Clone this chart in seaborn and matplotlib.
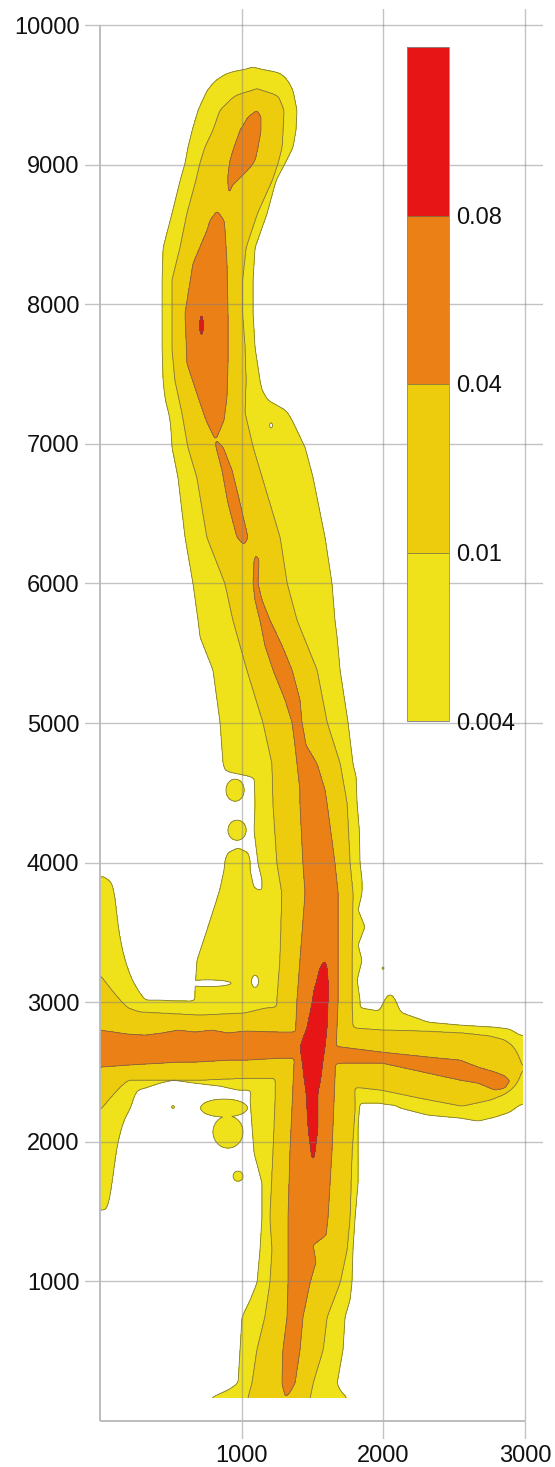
import numpy as np
import matplotlib
matplotlib.use("Agg")
import matplotlib.pyplot as plt
import seaborn as sns

# ---------------------------------------------------------------------------
# Concentration classes and their fill colours
levels = [0.004, 0.01, 0.04, 0.08]
level_labels = ["0.004", "0.01", "0.04", "0.08"]
level_colors = ["#EFE21B", "#EDCB0D", "#EB8116", "#E71515"]

# Axis ticks
x_ticks = [1000, 2000, 3000]
y_ticks = [1000, 2000, 3000, 4000, 5000, 6000, 7000, 8000, 9000, 10000]

# ---------------------------------------------------------------------------
# North-south plume: isoline positions (x) for each y row
# 0.004 isoline
ns004_y = [9700, 9660, 9600, 9530, 9390, 9245, 9125, 9010, 8885, 8650,
           8405, 8170, 7935, 7690, 7455, 7385, 7310, 7240, 7170, 7095,
           6975, 6760, 6330, 6000, 5735, 5615, 5380, 5005, 4710, 4645,
           4620, 4425, 4230, 3995, 3875, 3780, 3660, 3540, 3410, 3300,
           3160, 3015, 2300, 2105, 1920, 1705, 1460, 1225, 990, 865,
           745, 510, 270, 220, 165, 100]
ns004_left = [1080, 903, 812, 755, 692, 650, 621, 600, 565, 508,
              445, 438, 438, 438, 445, 452, 462, 480, 494, 501,
              508, 550, 600, 656, 692, 706, 797, 847, 868, 889,
              1087, 1094, 1087, 1115, 1143, 1143, 1143, 1143, 1143, 1143,
              1143, 1143, 1059, 1073, 1087, 1143, 1143, 1129, 1108, 1059,
              1002, 988, 974, 903, 776, 776]
ns004_right = [1080, 1270, 1327, 1362, 1390, 1383, 1362, 1306, 1242, 1179,
               1094, 1080, 1080, 1094, 1129, 1143, 1186, 1313, 1355, 1390,
               1447, 1503, 1588, 1637, 1658, 1673, 1694, 1750, 1785, 1800,
               1807, 1814, 1830, 1835, 1849, 1849, 1821, 1870, 1821, 1849,
               1814, 1835, 1835, 1821, 1821, 1821, 1800, 1785, 1778, 1764,
               1729, 1715, 1673, 1694, 1743, 1743]

# western lobe of the 0.004 isoline near y = 3000-4100
lobe_y = [4105, 4075, 4015, 3945, 3815, 3765, 3540, 3300, 3085, 2945]
lobe_left = [974, 903, 882, 875, 847, 833, 762, 684, 670, 670]
lobe_right = [974, 1044, 1059, 1059, 1087, 1200, 1200, 1200, 1200, 1200]

# 0.01 isoline
ns01_y = [9545, 9495, 9390, 9245, 9125, 9010, 8885, 8650, 8405, 8170,
          7935, 7690, 7455, 7220, 6975, 6760, 6330, 6000, 5735, 5380,
          5005, 4710, 4425, 3995, 3780, 3300, 3015, 2250, 1920, 1460,
          1225, 990, 745, 510, 270, 165, 100]
ns01_left = [1108, 953, 847, 797, 741, 706, 677, 614, 565, 508,
             508, 508, 529, 579, 621, 684, 755, 882, 939, 1037,
             1150, 1214, 1221, 1249, 1284, 1270, 1249, 1235, 1221, 1200,
             1214, 1200, 1164, 1108, 1073, 1044, 1044]
ns01_right = [1108, 1256, 1298, 1291, 1284, 1256, 1214, 1110, 1030, 1005,
              1005, 1023, 1030, 1023, 1080, 1143, 1270, 1320, 1390, 1531,
              1602, 1694, 1743, 1764, 1785, 1778, 1778, 1800, 1778, 1764,
              1743, 1694, 1602, 1574, 1503, 1482, 1482]

# 0.04 isoline: four separate cores along the plume
core_a_y = [9390, 9340, 9245, 9125, 9030, 8980, 8925, 8850, 8765]
core_a_left = [1108, 1044, 988, 946, 917, 910, 903, 903, 910]
core_a_right = [1108, 1136, 1136, 1115, 1094, 1059, 1009, 932, 910]

core_b_y = [8670, 8600, 8530, 8290, 7935, 7575, 7335, 7170, 7025]
core_b_left = [826, 776, 755, 656, 600, 614, 692, 748, 815]
core_b_right = [826, 875, 882, 896, 903, 903, 896, 875, 815]

core_c_y = [7040, 6975, 6810, 6575, 6330, 6275]
core_c_left = [812, 819, 861, 903, 967, 1016]
core_c_right = [812, 868, 932, 988, 1044, 1016]

core_d_y = [6215, 6165, 6000, 5880, 5735, 5555, 5380, 5165, 5005, 4840,
            4710, 4520, 4425, 3995, 3780, 3300, 3015, 1940, 1460, 1330,
            1260, 1140, 990, 745, 510, 270, 205, 165]
core_d_left = [1101, 1087, 1080, 1094, 1129, 1164, 1221, 1306, 1355, 1376,
               1390, 1411, 1411, 1432, 1447, 1411, 1390, 1341, 1327, 1327,
               1327, 1327, 1327, 1320, 1291, 1284, 1300, 1306]
core_d_right = [1101, 1122, 1115, 1143, 1200, 1284, 1355, 1411, 1425, 1454,
                1531, 1588, 1602, 1658, 1680, 1680, 1680, 1637, 1609, 1595,
                1503, 1524, 1482, 1432, 1411, 1376, 1340, 1306]

# 0.08 isoline
peak_n_y = [7925, 7880, 7815, 7775]
peak_n_left = [716, 704, 704, 716]
peak_n_right = [716, 729, 729, 716]

peak_s_y = [3300, 3250, 3160, 3085, 2995, 2820, 2680, 2585, 2465, 2350,
            2105, 1920, 1835]
peak_s_left = [1588, 1553, 1531, 1510, 1496, 1461, 1411, 1425, 1439, 1454,
               1468, 1489, 1503]
peak_s_right = [1588, 1602, 1609, 1609, 1609, 1602, 1588, 1574, 1560, 1538,
                1538, 1517, 1503]

# ---------------------------------------------------------------------------
# West-east plume: isoline positions (y) for each x column
we004_x = [-50, 0, 28, 56, 85, 106, 127, 155, 176, 212,
           247, 268, 318, 423, 515, 670, 847, 974, 1129, 1411,
           1849, 1976, 2004, 2047, 2089, 2117, 2315, 2541, 2668, 2788,
           2893, 2950, 2978, 3035, 3100]
we004_low = [1511, 1511, 1511, 1525, 1690, 1869, 2012, 2105, 2177, 2227,
             2349, 2370, 2385, 2420, 2442, 2420, 2399, 2370, 2370, 2335,
             2277, 2277, 2270, 2265, 2260, 2242, 2191, 2170, 2148, 2177,
             2213, 2256, 2270, 2290, 2290]
we004_high = [3895, 3895, 3903, 3874, 3860, 3781, 3538, 3388, 3301, 3194,
              3122, 3086, 3015, 3015, 3010, 3008, 3000, 3000, 3000, 2980,
              2957, 2936, 3015, 3065, 3015, 2929, 2857, 2836, 2828, 2821,
              2807, 2771, 2760, 2740, 2740]

we01_x = [-50, 0, 71, 141, 198, 282, 706, 1023, 1164, 1270,
          1800, 1990, 2258, 2555, 2752, 2858, 2914, 2957, 2978, 2990]
we01_low = [2227, 2227, 2313, 2392, 2442, 2442, 2442, 2456, 2456, 2456,
            2392, 2370, 2313, 2256, 2299, 2342, 2385, 2442, 2514, 2528]
we01_high = [3194, 3194, 3101, 3015, 2957, 2929, 2907, 2922, 2957, 2965,
             2814, 2800, 2793, 2779, 2757, 2728, 2685, 2614, 2542, 2528]

we04_x = [-50, 0, 198, 318, 438, 550, 670, 790, 903, 1023,
          1270, 1411, 1658, 1708, 1990, 2315, 2541, 2668, 2788, 2858,
          2886, 2893]
we04_low = [2535, 2535, 2550, 2557, 2564, 2571, 2571, 2578, 2585, 2585,
            2599, 2599, 2557, 2564, 2564, 2492, 2442, 2420, 2370, 2385,
            2428, 2435]
we04_high = [2800, 2800, 2771, 2764, 2779, 2800, 2786, 2800, 2779, 2793,
             2786, 2786, 2685, 2678, 2642, 2607, 2585, 2535, 2499, 2471,
             2442, 2435]

# isolated spots above 0.004 (centre, half-width, half-height)
spot_x = [953, 967, 875, 903, 974, 515, 1997]
spot_y = [4519, 4232, 2242, 2070, 1754, 2249, 3244]
spot_w = [64, 64, 165, 106, 35, 10, 7]
spot_h = [79, 72, 64, 115, 36, 10, 7]

# gaps below 0.004 inside the plume
gap_x = [760, 1094, 1207]
gap_y = [3136, 3150, 7132]
gap_w = [165, 25, 10]
gap_h = [24, 43, 18]

# ---------------------------------------------------------------------------
# Computational grid
step = 4.0
gx = np.arange(0.0, 2986.0, step)
gy = np.arange(165.0, 9800.0, step)
X = gx[None, :]
Y = gy[:, None]


def strip(along, across, pos, lo, hi):
    """Signed distance (positive inside) to a strip bounded by lo/hi isolines."""
    pos = np.asarray(pos, float)
    lo = np.asarray(lo, float)
    hi = np.asarray(hi, float)
    order = np.argsort(pos)
    pos, lo, hi = pos[order], lo[order], hi[order]
    a = np.interp(along, pos, lo)
    b = np.interp(along, pos, hi)
    s = np.minimum(across - a, b - across)
    ends = np.minimum(along - pos[0], pos[-1] - along)
    return np.broadcast_to(np.minimum(s, ends), (gy.size, gx.size)).copy()


def ns_strip(ys, left, right):
    return strip(Y, X, ys, left, right)


def we_strip(xs, low, high):
    return strip(X, Y, xs, low, high)


def ellipse(cx, cy, w, h):
    r = np.sqrt(((X - cx) / w) ** 2 + ((Y - cy) / h) ** 2)
    return (1.0 - r) * min(w, h)


def box(a, w, axis):
    pad = w // 2
    widths = [(0, 0), (0, 0)]
    widths[axis] = (pad + 1, pad)
    c = np.cumsum(np.pad(a, widths, mode="edge"), axis=axis)
    n = a.shape[axis]
    hi = np.take(c, np.arange(w, w + n), axis=axis)
    lo = np.take(c, np.arange(0, n), axis=axis)
    return (hi - lo) / w


def soften(a, w=7, passes=3):
    for _ in range(passes):
        a = box(box(a, w, 0), w, 1)
    return a


s004 = soften(np.maximum.reduce([
    ns_strip(ns004_y, ns004_left, ns004_right),
    ns_strip(lobe_y, lobe_left, lobe_right),
    we_strip(we004_x, we004_low, we004_high),
]))
for p in zip(spot_x, spot_y, spot_w, spot_h):
    s004 = np.maximum(s004, ellipse(*p))
for p in zip(gap_x, gap_y, gap_w, gap_h):
    s004 = np.minimum(s004, -ellipse(*p))

s01 = soften(np.maximum(ns_strip(ns01_y, ns01_left, ns01_right),
                        we_strip(we01_x, we01_low, we01_high)))
s01 = np.minimum(s01, s004)

s04 = soften(np.maximum.reduce([
    ns_strip(core_a_y, core_a_left, core_a_right),
    ns_strip(core_b_y, core_b_left, core_b_right),
    ns_strip(core_c_y, core_c_left, core_c_right),
    ns_strip(core_d_y, core_d_left, core_d_right),
    we_strip(we04_x, we04_low, we04_high),
]), w=5)
s04 = np.minimum(s04, s01)

s08 = np.maximum(soften(ns_strip(peak_n_y, peak_n_left, peak_n_right), w=3, passes=1),
                 soften(ns_strip(peak_s_y, peak_s_left, peak_s_right), w=5))
s08 = np.minimum(s08, s04)

width = 5.0
rank = sum(np.clip(0.5 + s / (2 * width), 0.0, 1.0) for s in (s004, s01, s04, s08))
conc = np.interp(rank, [0.0, 0.5, 1.5, 2.5, 3.5, 4.0],
                 [0.001] + levels + [0.1])

# ---------------------------------------------------------------------------
sns.set_theme(style="white")
plt.rcParams["font.family"] = ["Liberation Sans", "DejaVu Sans"]

fig = plt.figure(figsize=(5.55, 14.67), dpi=100)
ax = fig.add_axes([85 / 555, 28 / 1467, 458 / 555, 1430 / 1467])
ax.set_xlim(-106, 3126)
ax.set_ylim(-129, 10115)

fill_levels = levels + [0.12]
cf = ax.contourf(gx, gy, conc, levels=fill_levels, colors=level_colors, zorder=1)
cs = ax.contour(gx, gy, conc, levels=levels, colors="#5a5a50",
                linewidths=0.6, alpha=0.75, zorder=2)

ax.set_xticks(x_ticks)
ax.set_yticks(y_ticks)
ax.set_xticklabels([str(v) for v in x_ticks])
ax.set_yticklabels([str(v) for v in y_ticks])
ax.tick_params(axis="both", length=0, labelsize=17, colors="#111111")
ax.tick_params(axis="x", pad=4)
ax.tick_params(axis="y", pad=4)
ax.set_axisbelow(False)
ax.grid(True, color="#7a7a7a", alpha=0.45, linewidth=1.0)
for sp in ax.spines.values():
    sp.set_visible(False)

# frame lines along x = 0 and y = 0
ax.vlines(0, 0, 10000, colors="#b8b8b8", linewidth=1.3, zorder=3)
ax.hlines(0, 0, 3000, colors="#b8b8b8", linewidth=1.3, zorder=3)

# legend bar
cax = fig.add_axes([407 / 555, (1467 - 721) / 1467, 42 / 555, 674 / 1467])
cb = fig.colorbar(cf, cax=cax, ticks=levels)
cb.add_lines(cs)
cb.ax.set_yticklabels(level_labels)
cb.ax.tick_params(length=0, pad=5, labelsize=17, colors="#111111")
cb.outline.set_edgecolor("#8a8a8a")
cb.outline.set_linewidth(0.6)

fig.savefig("out.png", dpi=100)
